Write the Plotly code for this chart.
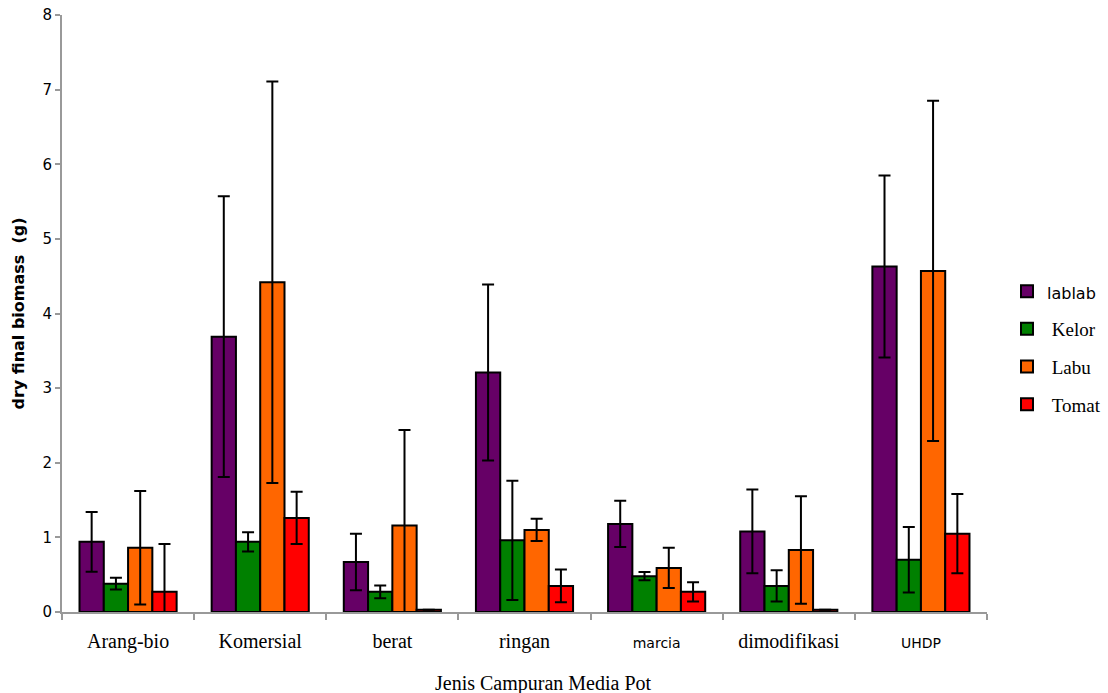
import plotly.graph_objects as go

categories = ["Arang-bio", "Komersial", "berat", "ringan", "marcia", "dimodifikasi", "UHDP"]
series_names = ["lablab", "Kelor", "Labu", "Tomat"]
lablab = [0.94, 3.69, 0.67, 3.21, 1.18, 1.08, 4.63]
lablab_err = [0.40, 1.88, 0.38, 1.18, 0.31, 0.56, 1.22]
kelor = [0.38, 0.94, 0.27, 0.96, 0.48, 0.35, 0.70]
kelor_err = [0.08, 0.13, 0.085, 0.80, 0.055, 0.21, 0.44]
labu = [0.86, 4.42, 1.16, 1.10, 0.59, 0.83, 4.57]
labu_err = [0.76, 2.69, 1.28, 0.15, 0.27, 0.72, 2.28]
tomat = [0.27, 1.26, 0.03, 0.35, 0.27, 0.03, 1.05]
tomat_err = [0.64, 0.35, 0.0, 0.22, 0.13, 0.0, 0.53]
y_ticks = [0, 1, 2, 3, 4, 5, 6, 7, 8]

SANS = "DejaVu Sans"
SERIF = "Liberation Serif"
colors = ["#660066", "#008000", "#FF6600", "#FF0000"]
values = [lablab, kelor, labu, tomat]
errors = [lablab_err, kelor_err, labu_err, tomat_err]
legend_labels = [
    "<span style='font-family:DejaVu Sans;font-size:16px'>lablab</span>",
    "&nbsp;Kelor",
    "&nbsp;Labu",
    "&nbsp;Tomat",
]

fig = go.Figure()
for i, name in enumerate(series_names):
    fig.add_trace(go.Bar(
        x=categories, y=values[i], name=legend_labels[i],
        legendgroup=name,
        marker=dict(color=colors[i], line=dict(color="black", width=2)),
        error_y=dict(type="data", array=errors[i], visible=True,
                     color="black", thickness=2, width=6),
    ))

sans_cats = {"marcia", "UHDP"}
ticktext = [
    (f"<span style='font-family:DejaVu Sans;font-size:14px'>{c}</span>" if c in sans_cats else c)
    for c in categories
]

fig.update_layout(
    width=1108, height=693,
    margin=dict(l=62, r=121, t=15, b=81, autoexpand=False),
    plot_bgcolor="white", paper_bgcolor="white",
    barmode="group", bargap=0.265, bargroupgap=0,
    showlegend=True,
    legend=dict(x=1.0216, y=0.569, xanchor="left", yanchor="top",
                font=dict(family=SERIF, size=19, color="black"),
                traceorder="grouped", tracegroupgap=10,
                bgcolor="rgba(0,0,0,0)"),
    xaxis=dict(
        automargin=False,
        tickmode="array", tickvals=categories, ticktext=ticktext,
        tickson="boundaries", ticks="outside", ticklen=6, tickcolor="#999999",
        tickwidth=2,
        showline=True, linecolor="#999999", linewidth=2,
        showgrid=False, zeroline=False,
        ticklabelstandoff=10,
        tickfont=dict(family=SERIF, size=20, color="black"),
    ),
    yaxis=dict(
        automargin=False,
        range=[0, 8], tickvals=y_ticks, ticks="outside", ticklen=5,
        tickcolor="#999999", tickwidth=2,
        showline=True, linecolor="#999999", linewidth=2,
        showgrid=False, zeroline=False,
        ticklabeloverflow="allow",
        tickfont=dict(family=SANS, size=15, color="black"),
        title=dict(text="<b>dry final biomass  (g)</b>",
                   font=dict(family=SANS, size=16, color="black"), standoff=14),
    ),
    annotations=[dict(
        text="Jenis Campuran Media Pot", xref="paper", yref="paper",
        x=0.521, y=-0.119, xanchor="center", yanchor="middle", showarrow=False,
        font=dict(family=SERIF, size=20, color="black"),
    )],
)

fig.write_html("out.html",
               config={"displayModeBar": False},
               post_script="document.body.style.margin='0';document.body.style.padding='0';")
